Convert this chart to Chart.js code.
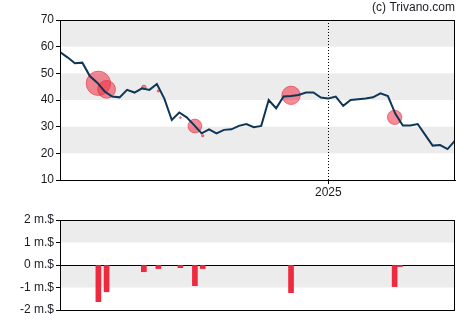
<!DOCTYPE html>
<html>
<head>
<meta charset="utf-8">
<script src="https://cdn.jsdelivr.net/npm/chart.js@4"></script>
<style>
  html, body { margin: 0; padding: 0; background: #fff; }
  #wrap { position: relative; width: 470px; height: 325px; }
  #price { position: absolute; left: 0; top: 0; }
  #flow { position: absolute; left: 0; top: 205px; }
</style>
</head>
<body>
<div id="wrap">
  <canvas id="price" width="470" height="205"></canvas>
  <canvas id="flow" width="470" height="120"></canvas>
</div>
<script>
// Weekly closing price (USD), one value per week
const weeklyClose = [
  58.0, 56.0, 53.8, 54.0, 49.0, 46.5, 43.2, 41.3, 41.0, 43.8,
  42.8, 44.4, 43.8, 46.0, 40.5, 32.5, 35.3, 33.5, 30.6, 27.5,
  29.0, 27.5, 28.8, 29.0, 30.3, 31.0, 29.8, 30.3, 40.0, 36.9,
  41.3, 41.5, 41.9, 42.8, 42.8, 40.9, 40.6, 41.3, 37.8, 40.0,
  40.3, 40.6, 41.0, 42.5, 41.5, 34.8, 30.4, 30.4, 31.0, 26.9,
  22.9, 23.1, 21.6, 24.8
];

// Year boundary on the time axis
const yearMarkWeek = 36;
const yearMarkLabel = '2025';

// Insider transactions: week position, price at trade, net value (million $)
const tradeWeek   = [5.15, 6.25, 11.25, 13.2, 16.15, 18.1, 19.15, 31.0, 44.9, 45.6];
const tradePrice  = [46.25, 44.0, 44.75, 43.4, 33.4, 30.25, 26.6, 41.75, 33.5, 32.0];
const tradeValueM = [-1.63, -1.19, -0.30, -0.16, -0.12, -0.92, -0.16, -1.23, -0.96, -0.07];

// Axis ticks
const priceTicks = [10, 20, 30, 40, 50, 60, 70];
const flowTicks = [-2, -1, 0, 1, 2];

const FONT = 'Arial, "Liberation Sans", sans-serif';
const TEXT = '#1c1c24';

// Alternating horizontal bands plus a closed frame round the plot area
const bandsAndFrame = {
  id: 'bandsAndFrame',
  beforeDraw(chart, args, opts) {
    const { ctx, chartArea: a, scales: { y } } = chart;
    ctx.save();
    ctx.fillStyle = '#ececec';
    (opts.bands || []).forEach(([lo, hi]) => {
      const y1 = y.getPixelForValue(hi), y2 = y.getPixelForValue(lo);
      ctx.fillRect(a.left, y1, a.right - a.left, y2 - y1);
    });
    ctx.restore();
  },
  afterDraw(chart, args, opts) {
    const { ctx, chartArea: a } = chart;
    ctx.save();
    ctx.strokeStyle = '#000';
    ctx.lineWidth = 1;
    ctx.strokeRect(Math.round(a.left) + 0.5, Math.round(a.top) + 0.5,
                   Math.round(a.right - a.left) - 1, Math.round(a.bottom - a.top));
    if (opts.credit) {
      ctx.font = '12px ' + FONT;
      ctx.fillStyle = TEXT;
      ctx.textAlign = 'right';
      ctx.textBaseline = 'middle';
      ctx.fillText(opts.credit, a.right, 8);
    }
    ctx.restore();
  }
};

const common = {
  responsive: false,
  animation: false,
  events: [],
  plugins: { legend: { display: false }, tooltip: { enabled: false } }
};

new Chart(document.getElementById('price'), {
  data: {
    datasets: [
      {
        type: 'bubble',
        data: tradeWeek.map((w, i) => ({ x: w, y: tradePrice[i], r: Math.abs(tradeValueM[i]) * 7.5 })),
        backgroundColor: 'rgba(238, 45, 65, 0.55)',
        borderColor: 'rgba(225, 40, 60, 0.55)',
        borderWidth: 1,
        order: 2
      },
      {
        type: 'line',
        data: weeklyClose.map((v, i) => ({ x: i, y: v })),
        borderColor: '#0f3656',
        borderWidth: 2,
        pointRadius: 0,
        tension: 0,
        order: 1
      }
    ]
  },
  options: {
    ...common,
    layout: { padding: { top: 20, right: 15, left: 0, bottom: 0 } },
    plugins: { ...common.plugins, bandsAndFrame: { bands: [[60, 70], [40, 50], [20, 30]], credit: '(c) Trivano.com' } },
    scales: {
      x: {
        type: 'linear', min: 0, max: weeklyClose.length - 1, offset: false,
        afterBuildTicks: s => { s.ticks = [{ value: yearMarkWeek }]; },
        afterFit: s => { s.height = 25; },
        ticks: { callback: () => yearMarkLabel, font: { size: 12, family: FONT }, color: TEXT, padding: 1, maxRotation: 0 },
        grid: { color: '#000', lineWidth: 1, tickLength: 4 },
        border: { color: '#000', width: 1, dash: [1, 2] }
      },
      y: {
        min: 10, max: 70,
        afterBuildTicks: s => { s.ticks = priceTicks.map(v => ({ value: v })); },
        afterFit: s => { s.width = 60; },
        ticks: { font: { size: 12, family: FONT }, color: TEXT, padding: 2 },
        grid: { drawOnChartArea: false, color: '#000', tickLength: 4 },
        border: { color: '#000', width: 1 }
      }
    }
  },
  plugins: [bandsAndFrame]
});

new Chart(document.getElementById('flow'), {
  type: 'bar',
  data: {
    datasets: [{
      data: tradeWeek.map((w, i) => ({ x: w, y: tradeValueM[i] })),
      backgroundColor: '#ee2a3f',
      barThickness: 5
    }]
  },
  options: {
    ...common,
    layout: { padding: { top: 15, right: 15, left: 0, bottom: 15 } },
    plugins: { ...common.plugins, bandsAndFrame: { bands: [[1, 2], [-1, 0]] } },
    scales: {
      x: { type: 'linear', min: 0, max: weeklyClose.length - 1, offset: false, display: false },
      y: {
        min: -2, max: 2,
        afterBuildTicks: s => { s.ticks = flowTicks.map(v => ({ value: v })); },
        afterFit: s => { s.width = 60; },
        ticks: { callback: v => v + ' m.$', font: { size: 12, family: FONT }, color: TEXT, padding: 2 },
        grid: {
          color: c => (c.tick && c.tick.value === 0 ? '#000' : 'rgba(0,0,0,0)'),
          tickColor: '#000', tickLength: 4, lineWidth: 1
        },
        border: { color: '#000', width: 1 }
      }
    }
  },
  plugins: [bandsAndFrame]
});
</script>
</body>
</html>
